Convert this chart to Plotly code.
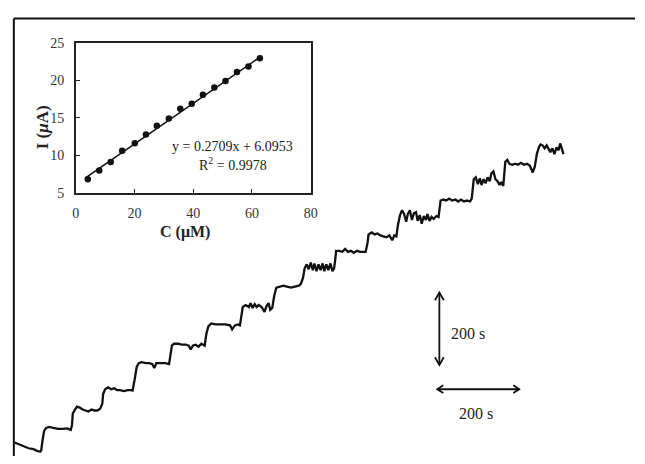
import plotly.graph_objects as go

# ---------------- data ----------------
# amperometric response: time (s) and current (uA)
time_s = [2, 12, 24, 36, 48, 58, 65,
          67, 70, 74, 79, 86, 96, 108, 120, 130, 139,
          142, 144, 149, 154, 161, 168, 175, 182, 190, 197, 204, 211,
          216, 218, 223, 230, 238, 245, 252, 259, 269, 278, 286, 290,
          295, 300, 305, 312, 322, 331, 338, 343, 348, 360, 370, 379,
          384, 386, 391, 401, 410, 420, 427, 432, 437, 444, 451, 458, 466,
          470, 475, 482, 492, 504, 516, 528, 533, 540, 547, 552,
          557, 559, 566, 574, 578, 583, 588, 593, 598, 605, 612, 617, 622, 626, 631,
          636, 641, 648, 658, 667, 677, 686, 696, 701,
          706, 710, 715, 720, 725, 730, 734, 739, 744, 749, 754, 758, 763, 768, 773, 778, 782,
          785, 787, 794, 802, 809, 816, 823, 830, 838, 845, 852, 859,
          864, 866, 874, 881, 888, 895, 902, 910, 917, 924, 929, 934,
          938, 943, 948, 953, 958, 962, 967, 972, 977, 982, 986, 991, 996, 1001, 1006,
          1010, 1015, 1020, 1025, 1032, 1037,
          1039, 1042, 1049, 1056, 1063, 1070, 1078, 1085, 1092, 1099, 1106, 1114, 1118,
          1121, 1123, 1128, 1133, 1138, 1142, 1147, 1152, 1157, 1162, 1166, 1171, 1176,
          1181, 1186, 1190, 1195,
          1198, 1200, 1205, 1210, 1217, 1224, 1231, 1238, 1246, 1253, 1260, 1265, 1267,
          1272, 1277, 1282, 1286, 1291, 1296, 1301, 1306, 1310, 1315, 1320, 1325, 1330,
          1334, 1339, 1342]
current_uA = [6.25, 6.15, 6.05, 5.95, 5.90, 5.80, 5.78,
              5.85, 6.35, 6.85, 7.00, 7.05, 7.00, 6.95, 6.95, 6.98, 6.90,
              7.15, 7.75, 7.95, 8.10, 8.05, 7.95, 7.90, 7.85, 7.95, 7.90, 7.90, 8.00,
              8.25, 8.75, 9.00, 9.10, 9.00, 9.05, 8.95, 8.95, 8.90, 8.95, 8.95, 8.93,
              9.50, 10.15, 10.35, 10.40, 10.35, 10.35, 10.30, 10.10, 10.35, 10.35, 10.35, 10.30,
              10.85, 11.25, 11.35, 11.35, 11.30, 11.30, 11.25, 11.05, 11.25, 11.30, 11.20, 11.35, 11.25,
              11.85, 12.25, 12.40, 12.35, 12.35, 12.35, 12.30, 12.10, 12.30, 12.35, 12.30,
              12.85, 13.25, 13.35, 13.25, 13.45, 13.20, 13.40, 13.25, 13.35, 13.25, 13.00, 13.30, 13.45, 13.10, 13.20,
              13.85, 14.25, 14.30, 14.35, 14.30, 14.25, 14.30, 14.35, 14.45,
              14.75, 15.25, 15.45, 15.20, 15.55, 15.15, 15.50, 15.10, 15.45, 15.15, 15.50, 15.10, 15.45, 15.15, 15.50, 15.10, 15.25,
              15.75, 16.15, 16.15, 16.10, 16.25, 16.10, 16.15, 16.05, 16.15, 16.10, 16.10, 16.10,
              16.60, 17.00, 17.10, 17.00, 17.05, 16.95, 16.90, 16.85, 16.95, 16.70, 16.95, 16.90,
              17.50, 18.00, 18.25, 18.05, 17.65, 18.05, 18.25, 17.75, 18.10, 18.15, 17.70, 18.00, 17.55, 17.95, 17.75,
              18.05, 17.70, 17.90, 17.80, 17.95, 17.90,
              18.35, 18.75, 18.80, 18.75, 18.85, 18.75, 18.80, 18.70, 18.80, 18.70, 18.75, 18.70, 18.85,
              19.35, 19.85, 19.95, 19.60, 19.90, 19.55, 19.85, 19.65, 19.95, 19.75, 20.15, 20.25, 19.85,
              19.75, 19.55, 19.70, 19.50,
              20.15, 20.75, 20.85, 20.65, 20.60, 20.65, 20.60, 20.70, 20.60, 20.65, 20.55, 20.35, 20.20,
              20.50, 21.15, 21.50, 21.65, 21.60, 21.45, 21.60, 21.35, 21.25, 21.45, 21.15, 21.50, 21.35,
              21.70, 21.40, 21.15]

# calibration plot: concentration (uM) vs current (uA)
conc_uM = [4.1, 8.0, 11.9, 15.8, 20.1, 23.9, 27.6, 31.7, 35.6, 39.5, 43.3, 47.2, 51.0, 54.9, 58.8, 62.7]
calib_uA = [6.8, 7.97, 9.1, 10.6, 11.6, 12.77, 13.93, 14.9, 16.19, 16.88, 18.08, 19.04, 19.9, 21.1, 21.84, 22.93]
fit_slope = 0.2709
fit_intercept = 6.0953
fit_r2 = 0.9978

inset_xticks = [0, 20, 40, 60, 80]
inset_yticks = [5, 10, 15, 20, 25]

# scale bars
hbar_t0, hbar_len_s, hbar_I = 1034, 200, 9.0
vbar_t, vbar_I0, vbar_len = 1039, 10.25, 3.75
bar_label = "200 s"

# ---------------- figure ----------------
W, H = 645, 464
def fx(p):
    return p / W
def fy(p):
    return 1 - p / H

SERIF = "Liberation Serif"
INK = "#111111"
TXT = "#222222"

fig = go.Figure()

fig.add_trace(go.Scatter(x=time_s, y=current_uA, mode="lines",
                         line=dict(color=INK, width=2.3),
                         xaxis="x", yaxis="y", hoverinfo="skip"))

fit_x = [min(conc_uM) - 0.9, max(conc_uM) + 0.6]
fit_y = [fit_slope * v + fit_intercept for v in fit_x]
fig.add_trace(go.Scatter(x=fit_x, y=fit_y, mode="lines",
                         line=dict(color=INK, width=1.6),
                         xaxis="x2", yaxis="y2"))
fig.add_trace(go.Scatter(x=conc_uM, y=calib_uA, mode="markers",
                         marker=dict(color=INK, size=6.5),
                         xaxis="x2", yaxis="y2"))

shapes = []
# outer frame (left and top edges)
shapes.append(dict(type="line", xref="paper", yref="paper",
                   x0=fx(10), y0=fy(12), x1=fx(642), y1=fy(12),
                   line=dict(color=INK, width=2)))
shapes.append(dict(type="line", xref="paper", yref="paper",
                   x0=fx(10), y0=fy(12), x1=fx(10), y1=0,
                   line=dict(color=INK, width=2)))

# horizontal scale bar with open arrowheads
ah_dt, ah_dI = 14.4, 0.2
t1 = hbar_t0 + hbar_len_s
bar_line = dict(color=INK, width=1.8)
shapes.append(dict(type="line", xref="x", yref="y", x0=hbar_t0, y0=hbar_I,
                   x1=t1, y1=hbar_I, line=bar_line))
shapes.append(dict(type="path", xref="x", yref="y", line=bar_line,
                   path=f"M {hbar_t0 + ah_dt},{hbar_I + ah_dI} L {hbar_t0},{hbar_I} L {hbar_t0 + ah_dt},{hbar_I - ah_dI}"))
shapes.append(dict(type="path", xref="x", yref="y", line=bar_line,
                   path=f"M {t1 - ah_dt},{hbar_I + ah_dI} L {t1},{hbar_I} L {t1 - ah_dt},{hbar_I - ah_dI}"))

# vertical scale bar with open arrowheads
av_dt, av_dI = 10.8, 0.4
I1 = vbar_I0 + vbar_len
shapes.append(dict(type="line", xref="x", yref="y", x0=vbar_t, y0=vbar_I0,
                   x1=vbar_t, y1=I1, line=bar_line))
shapes.append(dict(type="path", xref="x", yref="y", line=bar_line,
                   path=f"M {vbar_t - av_dt},{I1 - av_dI} L {vbar_t},{I1} L {vbar_t + av_dt},{I1 - av_dI}"))
shapes.append(dict(type="path", xref="x", yref="y", line=bar_line,
                   path=f"M {vbar_t - av_dt},{vbar_I0 + av_dI} L {vbar_t},{vbar_I0} L {vbar_t + av_dt},{vbar_I0 + av_dI}"))

annotations = [
    dict(x=vbar_t + 24, y=vbar_I0 + vbar_len / 2 - 0.25, xref="x", yref="y",
         text=bar_label, showarrow=False, xanchor="left", yanchor="middle",
         font=dict(family=SERIF, size=16, color=TXT)),
    dict(x=hbar_t0 + hbar_len_s / 2 - 6, y=hbar_I - 1.25, xref="x", yref="y",
         text=bar_label, showarrow=False, xanchor="center", yanchor="middle",
         font=dict(family=SERIF, size=16, color=TXT)),
    dict(x=fx(232.5), y=fy(144), xref="paper", yref="paper",
         text=f"y = {fit_slope}x + {fit_intercept}", showarrow=False,
         xanchor="center", yanchor="middle",
         font=dict(family=SERIF, size=14, color=TXT)),
    dict(x=fx(233), y=fy(162), xref="paper", yref="paper",
         text=f"R<sup>2</sup> = {fit_r2}", showarrow=False,
         xanchor="center", yanchor="middle",
         font=dict(family=SERIF, size=14, color=TXT)),
    dict(x=fx(184), y=fy(232), xref="paper", yref="paper",
         text="<b>C (μM)</b>", showarrow=False, xanchor="center", yanchor="middle",
         font=dict(family=SERIF, size=16, color=TXT)),
    dict(x=fx(40), y=fy(124), xref="paper", yref="paper",
         text="<b>I (<i>μ</i>A)</b>", showarrow=False, textangle=-90,
         xanchor="center", yanchor="middle",
         font=dict(family=SERIF, size=17, color=TXT)),
]

inset_axis = dict(showgrid=False, zeroline=False, showline=True, mirror=True,
                  linecolor="#222222", linewidth=1.6, ticks="inside", ticklen=4,
                  tickcolor="#222222", tickwidth=1.2,
                  tickfont=dict(family=SERIF, size=14, color="#333333"))

fig.update_layout(
    width=W, height=H,
    margin=dict(l=0, r=0, t=0, b=0),
    paper_bgcolor="white", plot_bgcolor="white",
    showlegend=False,
    xaxis=dict(domain=[fx(10), fx(642)], range=[0, 1516.8], visible=False),
    yaxis=dict(domain=[0, fy(12)], range=[5.55, 28.15], visible=False),
    xaxis2=dict(domain=[fx(73), fx(312)], anchor="y2", range=[0, 80],
                tickvals=inset_xticks, ticklabelstandoff=7, **inset_axis),
    yaxis2=dict(domain=[fy(192), fy(37)], anchor="x2", range=[5, 25],
                tickvals=inset_yticks, ticklabelstandoff=7, **inset_axis),
    shapes=shapes,
    annotations=annotations,
)

fig.write_html("out.html")
